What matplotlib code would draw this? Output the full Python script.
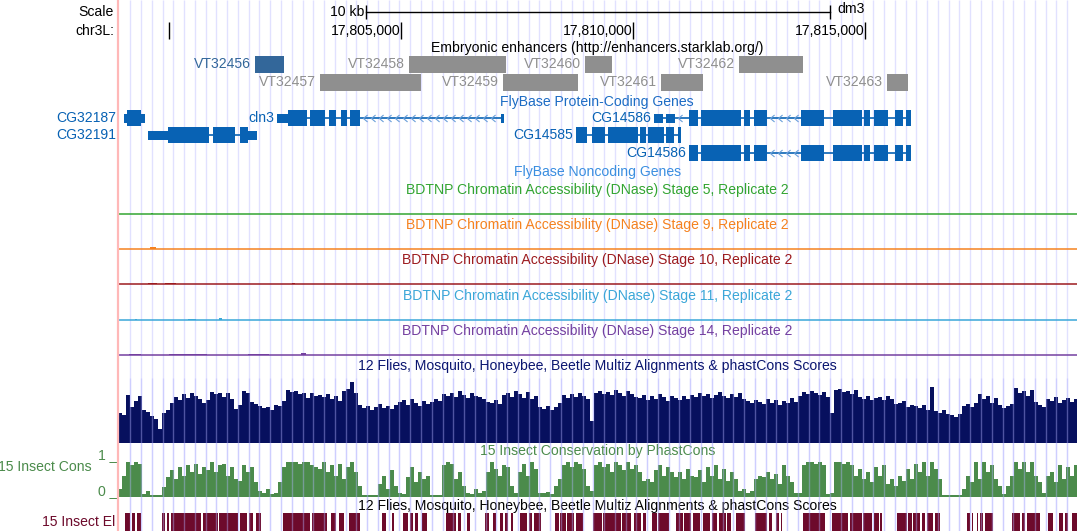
"""
UCSC-style browser view of chr3L:17,798,901-17,819,559 (dm3)
"""
import numpy as np
import matplotlib
matplotlib.use('Agg')
import matplotlib.pyplot as plt

plt.rcParams['font.family'] = ['Liberation Sans', 'DejaVu Sans']

# ── Window / ruler ────────────────────────────────────────────────
WIN_START = 17798901
WIN_END = 17819559
CHR_TICKS = [17800000, 17805000, 17810000, 17815000]
SCALE_BAR = (17804246, 17814246)

# ── Embryonic enhancers ───────────────────────────────────────────
ENH_NAMES = ['VT32456', 'VT32457', 'VT32458', 'VT32459', 'VT32460',
             'VT32461', 'VT32462', 'VT32463']
ENH_START = [17801853, 17803254, 17805172, 17807198, 17808966,
             17810604, 17812285, 17815474]
ENH_END = [17802478, 17805431, 17807263, 17808815, 17809548,
           17811509, 17813664, 17815927]
ENH_ROW = [0, 1, 0, 1, 0, 1, 0, 1]
ENH_HIGHLIGHT = [True, False, False, False, False, False, False, False]

# ── FlyBase protein-coding genes (all minus strand) ──────────────
GENE_NAMES = ['CG32187', 'CG32191', 'cln3', 'CG14586', 'CG14585', 'CG14586']
GENE_ROW = [0, 1, 0, 0, 1, 2]
GENE_TX = [(17799030, 17799483), (17799547, 17801897), (17802328, 17807220),
           (17810453, 17815992), (17808772, 17811035), (17811207, 17815992)]
GENE_CDS = [(17799095, 17799397), (17799978, 17801703), (17802565, 17804116),
            (17811207, 17815992), (17808772, 17811035), (17811207, 17815992)]
GENE_EXONS = [
    [(17799030, 17799483)],
    [(17799547, 17800862), (17800948, 17801422), (17801530, 17801897)],
    [(17802328, 17802974), (17803039, 17803362), (17803448, 17803599),
     (17803707, 17803836), (17803901, 17804116), (17807155, 17807220)],
    [(17810453, 17810647), (17810711, 17810905), (17811207, 17811401),
     (17811466, 17812328), (17812392, 17812522), (17812608, 17812888),
     (17813621, 17814117), (17814311, 17814936), (17814979, 17815108),
     (17815194, 17815496), (17815647, 17815819), (17815884, 17815992)],
    [(17808772, 17809009), (17809117, 17809397), (17809461, 17810108),
     (17810151, 17810280), (17810323, 17810668), (17810711, 17810884),
     (17810970, 17811035)],
    [(17811207, 17811401), (17811466, 17812328), (17812392, 17812522),
     (17812608, 17812888), (17813621, 17814117), (17814311, 17814936),
     (17814979, 17815108), (17815194, 17815496), (17815647, 17815819),
     (17815884, 17815992)],
]
GENE_LABEL_IN_MARGIN = [True, True, False, False, False, False]

# ── BDTNP DNase tracks (tiny signal, start, end, value) ──────────
DNASE_STAGES = ['5', '9', '10', '11', '14']
DNASE_COLORS = ['#33a532', '#f5821f', '#9c1b1f', '#3ba7d8', '#7440a0']
DNASE_PEAKS = [
    [(17799612, 17799655, 1.5)],
    [(17799591, 17799720, 2.0)],
    [(17799548, 17799742, 1.5), (17799914, 17800151, 1.5), (17802651, 17802716, 1.5)],
    [(17799268, 17799311, 1.5), (17800410, 17800582, 1.5), (17801078, 17801143, 2.0)],
    [(17799138, 17799397, 1.5), (17800000, 17800819, 1.5), (17801703, 17802155, 1.5),
     (17802845, 17802953, 2.0)],
]

# ── Multiz conservation (binned, 86 bp bins) ─────────────────────
MULTIZ_BIN = 86.2
MULTIZ = [
    30, 28, 48, 36, 42, 47, 33, 31, 27, 24,
    14, 30, 33, 40, 46, 43, 49, 45, 50, 47,
    44, 40, 43, 51, 49, 50, 46, 50, 44, 34,
    38, 52, 50, 41, 39, 37, 35, 36, 33, 38,
    37, 42, 53, 51, 52, 49, 50, 45, 50, 47,
    48, 46, 49, 44, 47, 42, 52, 54, 61, 50,
    38, 35, 37, 33, 36, 39, 35, 37, 34, 38,
    41, 43, 38, 44, 40, 37, 42, 39, 41, 44,
    42, 49, 47, 50, 46, 52, 48, 45, 50, 47,
    46, 44, 41, 40, 43, 39, 48, 50, 46, 52,
    49, 45, 51, 44, 47, 36, 34, 37, 33, 36,
    40, 48, 45, 49, 46, 50, 47, 44, 22, 50,
    52, 49, 51, 48, 53, 50, 47, 52, 49, 46,
    45, 48, 43, 47, 44, 49, 46, 42, 47, 45,
    43, 47, 44, 48, 46, 50, 47, 49, 45, 48,
    51, 47, 45, 49, 46, 50, 44, 42, 40, 43,
    41, 39, 44, 40, 43, 38, 42, 40, 45, 41,
    47, 51, 49, 52, 50, 48, 51, 46, 30, 53,
    54, 51, 52, 49, 53, 46, 44, 47, 43, 45,
    46, 43, 47, 44, 39, 40, 42, 36, 38, 37,
    35, 38, 33, 56, 32, 30, 33, 29, 28, 26,
    29, 37, 39, 36, 40, 49, 44, 47, 40, 45,
    38, 35, 37, 39, 55, 50, 52, 47, 53, 41,
    38, 36, 44, 42, 46, 40, 43, 45, 41, 44,
]
MULTIZ_MAX = 62

# ── 15 insect phastCons (binned) ─────────────────────────────────
PHASTCONS = [
    0.2, 0.6, 1.0, 0.9, 1.0, 0.95, 0.05, 0.15, 0.04, 0.03,
    0.04, 0.25, 0.55, 0.75, 0.5, 0.85, 0.6, 0.9, 0.7, 0.95,
    0.65, 0.85, 0.75, 1.0, 0.7, 0.9, 0.95, 0.6, 0.85, 0.5,
    0.45, 0.9, 0.7, 0.85, 0.4, 0.15, 0.08, 0.2, 0.06, 0.1,
    0.4, 0.85, 1.0, 1.0, 1.0, 0.95, 1.0, 1.0, 0.9, 0.85,
    0.8, 1.0, 0.7, 0.9, 0.6, 0.95, 0.5, 0.85, 1.0, 0.7,
    0.3, 0.03, 0.02, 0.02, 0.03, 0.35, 0.6, 0.2, 0.75, 0.3,
    0.1, 0.05, 0.55, 0.85, 0.4, 0.7, 0.5, 0.6, 0.03, 0.02,
    0.02, 0.9, 1.0, 0.95, 0.5, 0.7, 0.3, 0.1, 0.05, 0.2,
    0.08, 0.15, 0.7, 1.0, 0.8, 0.6, 0.9, 0.85, 0.3, 0.1,
    0.7, 0.95, 0.6, 1.0, 0.8, 0.1, 0.08, 0.12, 0.05, 0.3,
    0.5, 0.9, 1.0, 0.85, 1.0, 0.95, 0.8, 0.3, 0.15, 0.9,
    1.0, 0.85, 0.95, 0.7, 1.0, 0.9, 0.75, 1.0, 0.8, 0.9,
    0.7, 0.45, 0.5, 0.4, 0.75, 0.9, 0.6, 0.85, 0.7, 0.55,
    0.7, 0.5, 0.8, 0.6, 0.55, 0.75, 0.4, 0.85, 0.6, 0.9,
    0.5, 0.8, 0.45, 0.7, 0.5, 0.15, 0.2, 0.1, 0.15, 0.5,
    0.6, 0.55, 0.7, 0.5, 0.65, 0.35, 0.9, 0.6, 0.4, 0.1,
    0.08, 0.9, 1.0, 1.0, 0.95, 1.0, 0.9, 0.05, 0.1, 1.0,
    1.0, 0.95, 1.0, 0.9, 0.6, 0.8, 0.5, 0.7, 0.4, 0.85,
    0.6, 0.9, 0.35, 0.5, 0.3, 0.6, 0.45, 0.8, 0.5, 0.95,
    0.7, 1.0, 0.6, 1.0, 0.8, 0.5, 0.02, 0.02, 0.02, 0.02,
    0.02, 0.2, 0.6, 0.4, 1.0, 0.5, 1.0, 0.7, 0.9, 0.5,
    0.3, 0.05, 0.3, 0.6, 1.0, 0.8, 1.0, 0.7, 1.0, 0.6,
    0.4, 0.1, 0.6, 0.7, 0.4, 0.9, 0.5, 0.85, 0.6, 0.9,
]

# ── 15 insect conserved elements ─────────────────────────────────
ELEMENTS = [
    (17799046, 17799160), (17799203, 17799268), (17799311, 17799397),
    (17799860, 17799914), (17799957, 17800000), (17800033, 17800700),
    (17800730, 17801060), (17801085, 17801479), (17801530, 17801681),
    (17801716, 17801811), (17801886, 17801983),
    (17802457, 17803039), (17803074, 17803406), (17803483, 17803593),
    (17803664, 17803772), (17803890, 17804117),
    (17804591, 17804677), (17804806, 17804850),
    (17805044, 17805151), (17805194, 17805259), (17805302, 17805367),
    (17805453, 17805561),
    (17805970, 17806186), (17806229, 17806293), (17806414, 17806487),
    (17806821, 17806897), (17806983, 17807048), (17807134, 17807199),
    (17807252, 17807306), (17807371, 17807414),
    (17807565, 17807716), (17807750, 17807824), (17807867, 17808026),
    (17808319, 17808399), (17808427, 17808546), (17808578, 17808729),
    (17808772, 17808923),
    (17809138, 17809326), (17809362, 17809733), (17809763, 17809957),
    (17810031, 17810173), (17810216, 17810291),
    (17810401, 17810513), (17810550, 17810774),
    (17810921, 17811069), (17811106, 17811255), (17811294, 17811440),
    (17811515, 17811660), (17811703, 17811811), (17811854, 17811998),
    (17812035, 17812113),
    (17812220, 17812406), (17812630, 17812888), (17812925, 17812996),
    (17813074, 17813147), (17813186, 17813222),
    (17813664, 17814149),
    (17814289, 17814633), (17814669, 17814929),
    (17814966, 17815151), (17815188, 17815302), (17815324, 17815367),
    (17815690, 17815906), (17815927, 17816013), (17816035, 17816186),
    (17816222, 17816294), (17816337, 17816466), (17816509, 17816617),
    (17817192, 17817263), (17817300, 17817328), (17817408, 17817442),
    (17817479, 17817544), (17817587, 17817759),
    (17818162, 17818341), (17818378, 17818449), (17818485, 17818772),
    (17818945, 17819052), (17819182, 17819268), (17819311, 17819376),
    (17819455, 17819570),
]

# ── Layout (pixels) ──────────────────────────────────────────────
W, H = 1078, 531
X0, X1 = 118, 1076.5
FS = 10.1

GENE_BLUE = '#0862b4'
CHEVRON_BLUE = '#6a9fda'
ENH_BLUE = '#33679a'
ENH_GRAY = '#8f8f8f'
NAVY = '#07105e'
CONS_GREEN = '#4b8b4b'
EL_RED = '#6d0a2b'
GUIDE = '#b4b4ff'

BP_PER_PX = (WIN_END - WIN_START) / (X1 - X0)


def fig_xy(px, py):
    return px / W, 1 - py / H


def track_ax(top, bottom):
    a = fig.add_axes([X0 / W, 1 - bottom / H, (X1 - X0) / W, (bottom - top) / H])
    a.set_xlim(WIN_START, WIN_END)
    a.axis('off')
    a.patch.set_alpha(0)
    return a


fig = plt.figure(figsize=(W / 100, H / 100), dpi=100)
fig.patch.set_facecolor('white')

ax = fig.add_axes([X0 / W, 0, (X1 - X0) / W, 1])
ax.set_xlim(WIN_START, WIN_END)
ax.set_ylim(H, 0)
ax.axis('off')
mid = (WIN_START + WIN_END) / 2

# guidelines underneath the feature tracks
guides = np.arange(WIN_START + 12.2 * BP_PER_PX, WIN_END, 10.77 * BP_PER_PX)
ax.vlines(guides, 0, H, color='#e1e1ff', lw=1, zorder=0)

# ── Ruler ────────────────────────────────────────────────────────
fig.text(*fig_xy(114, 12), 'Scale', ha='right', va='center', fontsize=FS)
fig.text(*fig_xy(114, 31), 'chr3L:', ha='right', va='center', fontsize=FS)
ax.plot(SCALE_BAR, [12, 12], color='black', lw=1)
ax.vlines(SCALE_BAR, 5, 19, color='black', lw=1)
ax.annotate('10 kb', xy=(SCALE_BAR[0], 12), xytext=(-1, 0),
            textcoords='offset points', ha='right', va='center', fontsize=FS)
ax.annotate('dm3', xy=(SCALE_BAR[1], 9), xytext=(5, 0),
            textcoords='offset points', ha='left', va='center', fontsize=FS)
ax.vlines(CHR_TICKS, 22, 39, color='black', lw=1)
for t in CHR_TICKS[1:]:
    ax.annotate(f'{t:,}', xy=(t, 31), xytext=(-0.5, 0), textcoords='offset points',
                ha='right', va='center', fontsize=FS)

# ── Enhancers ────────────────────────────────────────────────────
ax.text(mid, 48, 'Embryonic enhancers (http://enhancers.starklab.org/)',
        ha='center', va='center', fontsize=FS)
ENH_Y = [56, 74]
for name, s, e, r, hl in zip(ENH_NAMES, ENH_START, ENH_END, ENH_ROW, ENH_HIGHLIGHT):
    c = ENH_BLUE if hl else ENH_GRAY
    ax.broken_barh([(s, e - s)], (ENH_Y[r], 17), color=c, lw=0)
    ax.annotate(name, xy=(s, ENH_Y[r] + 8.5), xytext=(-3, 0),
                textcoords='offset points', ha='right', va='center',
                fontsize=FS, color=c)

# ── Genes ────────────────────────────────────────────────────────
ax.text(mid, 102, 'FlyBase Protein-Coding Genes', ha='center', va='center',
        fontsize=FS, color='#1c6cc4')
ROW_Y = [118, 135, 153]
CHEV_STEP = 8 * BP_PER_PX
for name, row, tx, cds, exons, margin in zip(GENE_NAMES, GENE_ROW, GENE_TX,
                                             GENE_CDS, GENE_EXONS, GENE_LABEL_IN_MARGIN):
    y = ROW_Y[row]
    ax.plot(tx, [y, y], color=GENE_BLUE, lw=1.2, solid_capstyle='butt')
    # chevrons in introns
    for (a0, a1), (b0, b1) in zip(exons[:-1], exons[1:]):
        if b0 - a1 > CHEV_STEP * 1.2:
            xs = np.arange(a1 + CHEV_STEP * 0.6, b0 - CHEV_STEP * 0.3, CHEV_STEP)
            ax.plot(xs, [y] * len(xs), ls='none', marker=[(0.6, 1), (-0.6, 0), (0.6, -1)],
                    ms=5, mew=0.8, mfc='none', mec=CHEVRON_BLUE)
    for s, e in exons:
        ax.broken_barh([(s, e - s)], (y - 4.5, 9), color=GENE_BLUE, lw=0)
        cs, ce = max(s, cds[0]), min(e, cds[1])
        if ce > cs:
            ax.broken_barh([(cs, ce - cs)], (y - 8, 16), color=GENE_BLUE, lw=0)
    if margin:
        fig.text(*fig_xy(116, y), name, ha='right', va='center', fontsize=FS,
                 color=GENE_BLUE)
    else:
        ax.annotate(name, xy=(tx[0], y), xytext=(-2, 0), textcoords='offset points',
                    ha='right', va='center', fontsize=FS, color=GENE_BLUE)

ax.text(mid, 172, 'FlyBase Noncoding Genes', ha='center', va='center',
        fontsize=FS, color='#3a8ee0')

# ── DNase tracks ────────────────────────────────────────────────
DNASE_BASE = [214, 249, 284, 320, 355]
for stage, col, peaks, base in zip(DNASE_STAGES, DNASE_COLORS, DNASE_PEAKS, DNASE_BASE):
    ax.text(mid, base - 24, f'BDTNP Chromatin Accessibility (DNase) Stage {stage}, Replicate 2',
            ha='center', va='center', fontsize=FS, color=col)
    t = track_ax(base - 20, base + 1)
    t.set_ylim(-1, 20)
    t.axhline(0, color=col, lw=1.1)
    for s, e, v in peaks:
        t.broken_barh([(s, e - s)], (0, v), color=col, lw=0)

# ── Multiz ──────────────────────────────────────────────────────
ax.text(mid, 366, '12 Flies, Mosquito, Honeybee, Beetle Multiz Alignments & phastCons Scores',
        ha='center', va='center', fontsize=FS, color='#0b1670')
edges = WIN_START + np.arange(len(MULTIZ) + 1) * MULTIZ_BIN
t = track_ax(443 - MULTIZ_MAX, 443)
t.set_ylim(0, MULTIZ_MAX)
t.stairs(MULTIZ, edges, fill=True, color=NAVY, lw=0)

# ── phastCons ───────────────────────────────────────────────────
ax.text(mid, 451, '15 Insect Conservation by PhastCons', ha='center', va='center',
        fontsize=FS, color=CONS_GREEN)
fig.text(*fig_xy(92, 467), '15 Insect Cons', ha='right', va='center',
         fontsize=FS, color=CONS_GREEN)
fig.text(*fig_xy(117, 459), '1 _', ha='right', va='baseline', fontsize=FS, color=CONS_GREEN)
fig.text(*fig_xy(117, 495), '0 _', ha='right', va='baseline', fontsize=FS, color=CONS_GREEN)
t = track_ax(462, 497)
t.set_ylim(-0.03, 1)
t.stairs(PHASTCONS, edges, fill=True, color=CONS_GREEN, lw=0)
t.axhline(0, color=CONS_GREEN, lw=1)

# ── Conserved elements ──────────────────────────────────────────
ax.text(mid, 506, '12 Flies, Mosquito, Honeybee, Beetle Multiz Alignments & phastCons Scores',
        ha='center', va='center', fontsize=FS, color='black')
fig.text(*fig_xy(115, 522), '15 Insect El', ha='right', va='center',
         fontsize=FS, color=EL_RED)
t = track_ax(513, 531)
t.set_ylim(0, 1)
t.broken_barh([(s, e - s) for s, e in ELEMENTS], (0, 1), color=EL_RED, lw=0)

# ── Guidelines showing through the wiggle tracks ────────────────
ov = track_ax(0, H)
ov.set_ylim(H, 0)
ov.set_zorder(10)
ov.vlines(guides, 378, H, color=GUIDE, lw=1, alpha=0.42)
ov.axvline(WIN_START, color='#ffb8b8', lw=1.6, clip_on=False)

fig.savefig('out.png', dpi=100)
